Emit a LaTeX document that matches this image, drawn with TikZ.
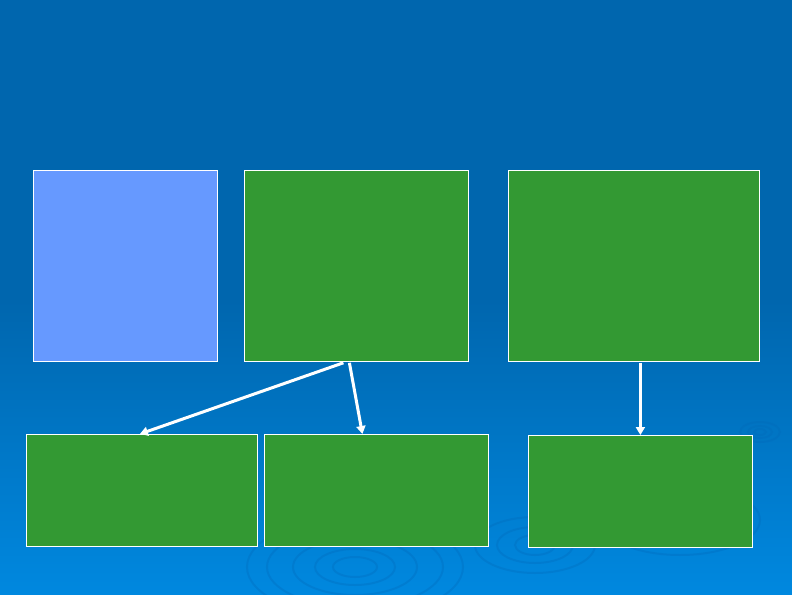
\documentclass[tikz,border=0pt]{standalone}
\usetikzlibrary{calc,arrows.meta}
\definecolor{bgtop}{HTML}{0066AE}
\definecolor{bgbot}{HTML}{0088DF}
\definecolor{boxgreen}{HTML}{339933}
\definecolor{boxblue}{HTML}{6699FF}
\definecolor{ripple}{HTML}{0068B8}
\begin{document}
\begin{tikzpicture}[x=1pt,y=-1pt,
  panel/.style={draw=white,line width=0.8pt,anchor=north west,inner sep=0pt},
  link/.style={draw=white,line width=3pt,-{Triangle[width=9pt,length=8pt]}},
  rip/.style={draw=ripple,line width=2pt,opacity=0.3}]
\shade[top color=bgtop,bottom color=bgbot] (0,300) rectangle (792,594);
\fill[bgtop] (0,0) rectangle (792,300);
\useasboundingbox (0,0) rectangle (792,594);
% ripples
\foreach \a/\b in {22/10,40/18,62/28,88/40,108/50}{\draw[rip] (355,567) ellipse [x radius=\a,y radius=\b];}
\foreach \a/\b in {20/10,38/18,60/28}{\draw[rip] (535,545) ellipse [x radius=\a,y radius=\b];}
\draw[rip] (680,520) ellipse [x radius=80,y radius=35];
\foreach \a/\b in {6/3,12/6,20/10}{\draw[rip] (760,432) ellipse [x radius=\a,y radius=\b];}
% panels
\node[panel,fill=boxblue,minimum width=184pt,minimum height=191pt] (p1) at (33,170) {};
\node[panel,fill=boxgreen,minimum width=224pt,minimum height=191pt] (p2) at (244,170) {};
\node[panel,fill=boxgreen,minimum width=251pt,minimum height=191pt] (p3) at (508,170) {};
\node[panel,fill=boxgreen,minimum width=231pt,minimum height=112pt] (b1) at (26,434) {};
\node[panel,fill=boxgreen,minimum width=224pt,minimum height=112pt] (b2) at (264,434) {};
\node[panel,fill=boxgreen,minimum width=224pt,minimum height=112pt] (b3) at (528,435) {};
% connectors
\coordinate (s1) at ($(p2.south)+(-13,1)$);
\coordinate (s2) at ($(p2.south)+(-7,1)$);
\coordinate (e2) at ($(b2.north)+(-14,0)$);
\coordinate (s3) at ($(p3.south -| b3.north)+(0,1)$);
\draw[link] (s1) -- ($(b1.north)+(-2,0)$);
\draw[link] (s2) -- (e2);
\draw[link] (s3) -- (b3.north);
\end{tikzpicture}
\end{document}
